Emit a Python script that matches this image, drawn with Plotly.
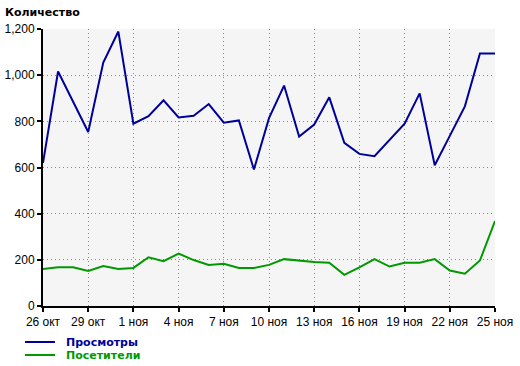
import plotly.graph_objects as go
import pandas as pd

dates = pd.date_range("2009-10-26", "2009-11-25", freq="D").strftime("%Y-%m-%d").tolist()

views = [620, 1016, 885, 754, 1055, 1189, 790, 822, 891, 817, 824, 875, 794, 804, 591,
         814, 955, 734, 786, 904, 707, 659, 649, 718, 790, 921, 610, 737, 865, 1094, 1094]
visitors = [160, 168, 168, 152, 173, 160, 165, 211, 194, 227, 199, 178, 183, 165, 165,
            178, 203, 196, 191, 187, 135, 167, 203, 171, 187, 187, 203, 154, 140, 197, 368]

tick_dates = ["2009-10-26", "2009-10-29", "2009-11-01", "2009-11-04", "2009-11-07",
              "2009-11-10", "2009-11-13", "2009-11-16", "2009-11-19", "2009-11-22", "2009-11-25"]
tick_labels = ["26 окт", "29 окт", "1 ноя", "4 ноя", "7 ноя", "10 ноя", "13 ноя",
               "16 ноя", "19 ноя", "22 ноя", "25 ноя"]
y_ticks = [0, 200, 400, 600, 800, 1000, 1200]

series_names = ["Просмотры", "Посетители"]
series_colors = ["#000099", "#009900"]

FONT = "Liberation Sans, Arial, sans-serif"
BOLD_FONT = "DejaVu Sans, Verdana, sans-serif"

fig = go.Figure()
for name, vals, col in zip(series_names, [views, visitors], series_colors):
    fig.add_trace(go.Scatter(x=dates, y=vals, mode="lines", name=name,
                             line=dict(color=col, width=2), showlegend=False))

L, R, T, B = 43, 495, 29, 306
W, H = 520, 366

grid = dict(showgrid=True, gridcolor="#888888", griddash="1px,3px", gridwidth=1,
            showline=True, linecolor="black", linewidth=2,
            ticks="outside", ticklen=4, tickwidth=2, tickcolor="black",
            zeroline=False, tickfont=dict(size=12))

fig.update_layout(
    width=W, height=H,
    margin=dict(l=L, r=W - R, t=T, b=H - B, pad=0, autoexpand=False),
    paper_bgcolor="white",
    plot_bgcolor="#f5f5f5",
    font=dict(family=FONT, size=12, color="black"),
    title=dict(text="<b>Количество</b>", x=5 / W, xanchor="left", xref="container",
               y=1 - 12 / H, yanchor="middle", yref="container",
               font=dict(family=BOLD_FONT, size=11, color="black")),
    xaxis=dict(range=[dates[0], dates[-1]], tickvals=tick_dates, ticktext=tick_labels, **grid),
    yaxis=dict(range=[0, 1200], tickvals=y_ticks, tickformat=",d", **grid),
)

# legend drawn at bottom left
pw, ph = R - L, B - T
leg_rows = [342, 355]
for name, col, py in zip(series_names, series_colors, leg_rows):
    yp = (B - py) / ph
    fig.add_shape(type="line", xref="paper", yref="paper",
                  x0=(25 - L) / pw, x1=(55 - L) / pw, y0=yp, y1=yp,
                  line=dict(color=col, width=2))
    fig.add_annotation(xref="paper", yref="paper", x=(64 - L) / pw, y=yp,
                       xanchor="left", yanchor="middle", showarrow=False,
                       text=f"<b>{name}</b>",
                       font=dict(family=BOLD_FONT, size=11, color=col))

fig.write_html("out.html", config={"displayModeBar": False},
               post_script="document.body.style.margin='0';")
